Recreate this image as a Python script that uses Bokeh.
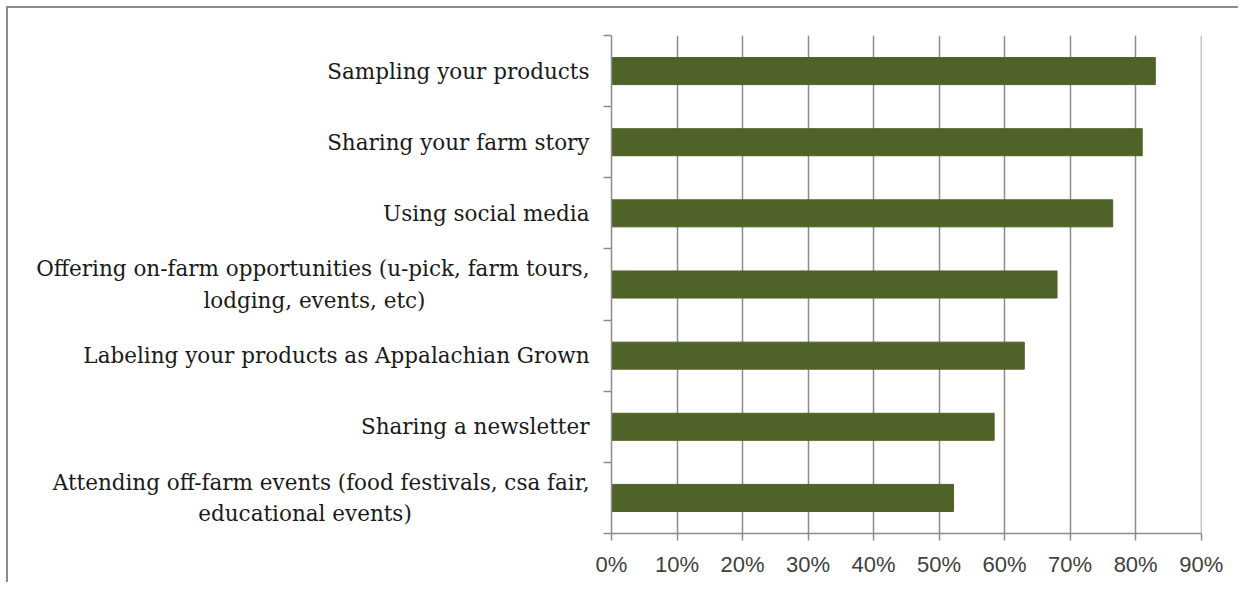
from bokeh.plotting import figure
from bokeh.models import (ColumnDataSource, FixedTicker, LinearAxis,
                          NumeralTickFormatter, Range1d)
from bokeh.embed import file_html
from bokeh.resources import INLINE

# ---- data (top to bottom) ----
categories = [
    "Sampling your products",
    "Sharing your farm story",
    "Using social media",
    "Offering on-farm opportunities (u-pick, farm tours,\nlodging, events, etc)",
    "Labeling your products as Appalachian Grown",
    "Sharing a newsletter",
    "Attending off-farm events (food festivals, csa fair,\neducational events)",
]
values = [0.83, 0.81, 0.765, 0.68, 0.63, 0.584, 0.522]
x_ticks = [0.0, 0.1, 0.2, 0.3, 0.4, 0.5, 0.6, 0.7, 0.8, 0.9]

n = len(categories)
ypos = [n - 1 - i + 0.5 for i in range(n)]

BAR = "#4F6228"
GRID = "#8c8c8c"
LABEL_FONT = "DejaVu Serif"

# second lines of wrapped labels are centred under the first line:
# pad them with non-breaking spaces (layout only)
pad_nbsp = {3: 24, 6: 26}
shown = []
for i, c in enumerate(categories):
    if i in pad_nbsp and "\n" in c:
        a, b = c.split("\n", 1)
        c = a + "\n" + b + "\u00a0" * pad_nbsp[i]
    shown.append(c)

p = figure(width=1232, height=576, output_backend="svg", toolbar_location=None,
           x_range=Range1d(0, 0.9005), y_range=Range1d(0, n),
           min_border_left=603, min_border_right=39,
           min_border_top=27, min_border_bottom=51)
p.styles = {"margin-left": "6px", "margin-top": "6px",
            "border-left": "2px solid #8c8c8c", "border-top": "2px solid #8c8c8c"}
p.outline_line_color = None
p.background_fill_color = "white"
p.border_fill_color = "white"

src = ColumnDataSource(dict(y=ypos, v=values, label=categories))
p.hbar(y="y", left=0, right="v", height=0.38, source=src,
       fill_color=BAR, line_color=BAR)

# x axis
p.xaxis.ticker = FixedTicker(ticks=x_ticks)
p.xaxis.formatter = NumeralTickFormatter(format="0%")
p.xaxis.axis_line_color = GRID
p.xaxis.axis_line_width = 1.5
p.xaxis.major_tick_line_color = GRID
p.xaxis.major_tick_line_width = 1.5
p.xaxis.major_tick_in = 0
p.xaxis.major_tick_out = 7
p.xaxis.minor_tick_line_color = None
p.xaxis.major_label_standoff = 11
p.xaxis.major_label_text_font = "Liberation Sans"
p.xaxis.major_label_text_font_size = "22px"
p.xaxis.major_label_text_color = "#404040"

# inner y axis: ticks at category boundaries, no labels
p.yaxis.ticker = FixedTicker(ticks=list(range(n + 1)))
p.yaxis.axis_line_color = GRID
p.yaxis.axis_line_width = 1.5
p.yaxis.major_tick_line_color = GRID
p.yaxis.major_tick_line_width = 1.5
p.yaxis.major_tick_in = 0
p.yaxis.major_tick_out = 8
p.yaxis.minor_tick_line_color = None
p.yaxis.major_label_text_font_size = "0px"
p.yaxis.major_label_standoff = 0

# outer y axis: category labels at category centres
lab_axis = LinearAxis(ticker=FixedTicker(ticks=ypos),
                      major_label_overrides={y: c for y, c in zip(ypos, shown)})
lab_axis.axis_line_color = None
lab_axis.major_tick_line_color = None
lab_axis.minor_tick_line_color = None
lab_axis.major_tick_in = 0
lab_axis.major_tick_out = 0
lab_axis.major_label_standoff = 14
lab_axis.major_label_text_font = LABEL_FONT
lab_axis.major_label_text_font_size = "21.5px"
lab_axis.major_label_text_color = "#1a1a1a"
lab_axis.major_label_text_line_height = 1.27
p.add_layout(lab_axis, "left")

# grid
p.xgrid.ticker = FixedTicker(ticks=x_ticks)
p.xgrid.grid_line_color = GRID
p.xgrid.grid_line_width = 1.5
p.ygrid.grid_line_color = None

open("out.html", "w").write(file_html(p, INLINE))
